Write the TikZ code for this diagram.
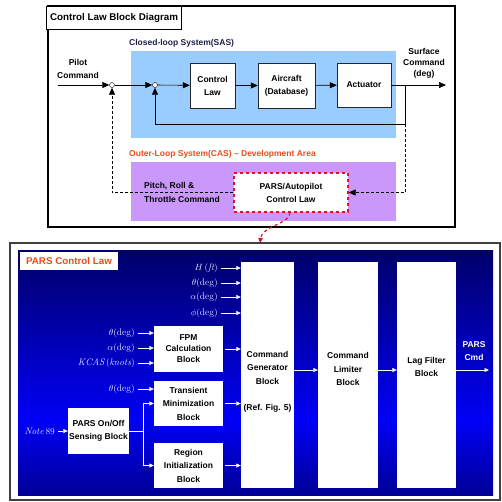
\documentclass[tikz,border=0pt]{standalone}
\usepackage{fontspec}
\setsansfont{Liberation Sans}
\usetikzlibrary{arrows.meta,positioning}
\definecolor{sasblue}{RGB}{153,204,255}
\definecolor{casviolet}{RGB}{202,152,250}
\definecolor{casorange}{RGB}{232,76,30}
\definecolor{parsred}{RGB}{226,16,40}
\definecolor{sasink}{RGB}{30,32,70}
\definecolor{navytop}{RGB}{0,0,105}
\definecolor{brightblue}{RGB}{0,0,246}
\definecolor{deepblue}{RGB}{0,0,150}
\definecolor{lblink}{RGB}{226,226,255}
\tikzset{
  blk/.style={draw=black!85,fill=white,align=center,inner sep=0pt,
    font=\sffamily\bfseries\fontsize{8.5}{13}\selectfont},
  wblk/.style={fill=white,inner sep=0pt},
  btxt/.style={align=center,inner sep=0pt,font=\sffamily\bfseries\fontsize{8.5}{13.5}\selectfont},
  hdtxt/.style={align=center,inner sep=0pt,font=\sffamily\bfseries\fontsize{8.5}{13}\selectfont},
  lbl/.style={text=lblink,anchor=east,inner sep=1pt,font=\fontsize{9.5}{10}\selectfont},
  sumj/.style={circle,draw,fill=white,inner sep=0pt,minimum size=5pt},
  blkarr/.style={line width=0.6pt,-{Triangle[length=7pt,width=6pt]}},
  wharr/.style={white,line width=0.6pt,shorten <=2pt,-{Triangle[length=4.5pt,width=4pt]}},
  dsh/.style={dash pattern=on 3pt off 2pt}
}
\begin{document}
\begin{tikzpicture}[x=1pt,y=-1pt]
    \useasboundingbox (0,0) rectangle (502,501);
    \draw[line width=1.2pt] (48,6) rectangle (455,227);
    \node[draw,line width=0.8pt,fill=white,minimum width=132pt,minimum height=23pt,
      font=\sffamily\bfseries\fontsize{9.8}{11}\selectfont] (title) at (114,17.5) {Control Law Block Diagram};
    \fill[sasblue] (131,51) rectangle (396,138);
    \fill[casviolet] (131,162) rectangle (396,221);
    \node[hdtxt,anchor=west,text=sasink] (saslbl) at (129,43) {Closed-loop System(SAS)};
    \node[hdtxt,anchor=west,text=casorange] (caslbl) at (129,154) {Outer-Loop System(CAS) -- Development Area};

    \node[sumj] (s1) at (112,85) {};
    \node[sumj] (s2) at (155,85) {};
    \node[blk,minimum width=45pt,minimum height=45pt] (law) at (212.5,85.5) {Control\\Law};
    \node[blk,minimum width=57pt,minimum height=45pt] (plant) at (286.5,85.5) {Aircraft\\(Database)};
    \node[blk,minimum width=54pt,minimum height=44pt] (act) at (364,85) {Actuator};
    \node[blk,draw=parsred,line width=1.2pt,dashed,minimum width=114pt,minimum height=39pt] (pap) at (291,192.5) {PARS/Autopilot\\Control Law};
    \node[hdtxt] (pilot) at (78,68.5) {Pilot\\Command};
    \node[hdtxt,font=\sffamily\bfseries\fontsize{8.5}{11}\selectfont] (surf) at (424,63) {Surface\\Command\\(deg)};
    \node[hdtxt,align=left,anchor=west,font=\sffamily\bfseries\fontsize{8.5}{14}\selectfont] (prt) at (144,192) {Pitch, Roll \&\\Throttle Command};
    \coordinate (pin) at (58,85);
    \coordinate (br) at (405,85);
    \coordinate (fb) at (405,124);
    \coordinate (sout) at (446,85);
    \coordinate (lawtop) at (260,243);

    \draw[blkarr] (pin) -- (s1);
    \draw[blkarr] (s1) -- (s2);
    \draw[blkarr] (s2) -- (law);
    \draw[blkarr] (law) -- (plant);
    \draw[blkarr] (plant) -- (act);
    \draw[blkarr] (act) -- (sout);
    \draw[blkarr] (br) -- (fb) -| (s2.south);
    \draw[blkarr,dsh] (pap.west) -| (s1.south);
    \draw[blkarr,dsh] (fb) |- (pap.east);
    \draw[parsred,line width=1.2pt,dashed,-{Triangle[length=5pt,width=4.5pt]}]
      ([xshift=-1pt]pap.south) .. controls (290,224) and (262,226) .. (lawtop);

    \draw[line width=1.5pt,draw=black!75] (10,243) rectangle (500,500);
    \shade[top color=navytop,bottom color=brightblue] (18,250) rectangle (493,420);
    \shade[top color=brightblue,bottom color=deepblue] (18,420) rectangle (493,495);
    \node[fill=white,minimum width=98pt,minimum height=18pt,text=casorange,
      font=\sffamily\bfseries\fontsize{9.8}{11}\selectfont] (parslbl) at (69,261) {PARS Control Law};

    \node[wblk,minimum width=53pt,minimum height=226pt] (gen) at (267.5,375) {};
    \node[wblk,minimum width=60pt,minimum height=226pt] (lim) at (348,375) {};
    \node[wblk,minimum width=59pt,minimum height=226pt] (lag) at (426.5,375) {};
    \node[btxt] (gentxt) at ([yshift=-7pt]gen) {Command\\Generator\\Block\\[13pt](Ref. Fig. 5)};
    \node[btxt] (limtxt) at ([yshift=6pt]lim) {Command\\Limiter\\Block};
    \node[btxt] (lagtxt) at ([yshift=8pt]lag) {Lag Filter\\Block};
    \node[wblk,btxt,minimum width=69pt,minimum height=46pt,font=\sffamily\bfseries\fontsize{8.5}{11}\selectfont] (fpm) at (188.5,349) {FPM\\Calculation\\Block};
    \node[wblk,btxt,minimum width=69pt,minimum height=45pt] (tra) at (188.5,403.5) {Transient\\Minimization\\Block};
    \node[wblk,btxt,minimum width=69pt,minimum height=45pt] (reg) at (188.5,465.5) {Region\\Initialization\\Block};
    \node[wblk,btxt,minimum width=61pt,minimum height=46pt] (sen) at (98.5,431) {PARS On/Off\\Sensing Block};
    \node[btxt,text=white] (pcmd) at (474,351) {PARS\\Cmd};

    \node[lbl] (hin) at (219,268) {$H\,(\mathit{ft})$};
    \node[lbl] (thin) at (219,283) {$\theta(\mathrm{deg})$};
    \node[lbl] (alin) at (219,297) {$\alpha(\mathrm{deg})$};
    \node[lbl] (phin) at (219,313) {$\phi(\mathrm{deg})$};
    \node[lbl] (thfpm) at (136,333) {$\theta(\mathrm{deg})$};
    \node[lbl] (alfpm) at (136,348) {$\alpha(\mathrm{deg})$};
    \node[lbl] (kcas) at (136,363) {$\mathit{KCAS}\,(\mathit{knots})$};
    \node[lbl] (thtra) at (136,389) {$\theta(\mathrm{deg})$};
    \node[lbl] (note) at (56,431) {$\mathit{Note}\,89$};
    \coordinate (sp) at (143,431);
    \coordinate (cmdy) at (0,370);
    \coordinate (pout) at (489,370);

    \foreach \n in {hin,thin,alin,phin}
      \draw[wharr] (\n.east) -- (\n.east -| gen.west);
    \foreach \n in {thfpm,alfpm,kcas}
      \draw[wharr] (\n.east) -- (\n.east -| fpm.west);
    \draw[wharr] (thtra.east) -- (thtra.east -| tra.west);
    \draw[wharr] (note.east) -- (sen.west);
    \foreach \n in {fpm,tra,reg}
      \draw[wharr] (\n.east) -- (\n.east -| gen.west);
    \draw[white,line width=0.6pt] (sen.east) -- (sp);
    \draw[wharr,shorten <=0pt] (sp) |- (tra.west);
    \draw[wharr,shorten <=0pt] (sp) |- (reg.west);
    \draw[wharr,shorten <=0pt] (gen.east |- cmdy) -- (lim.west |- cmdy);
    \draw[wharr,shorten <=0pt] (lim.east |- cmdy) -- (lag.west |- cmdy);
    \draw[wharr,shorten <=0pt] (lag.east |- cmdy) -- (pout);
\end{tikzpicture}
\end{document}
